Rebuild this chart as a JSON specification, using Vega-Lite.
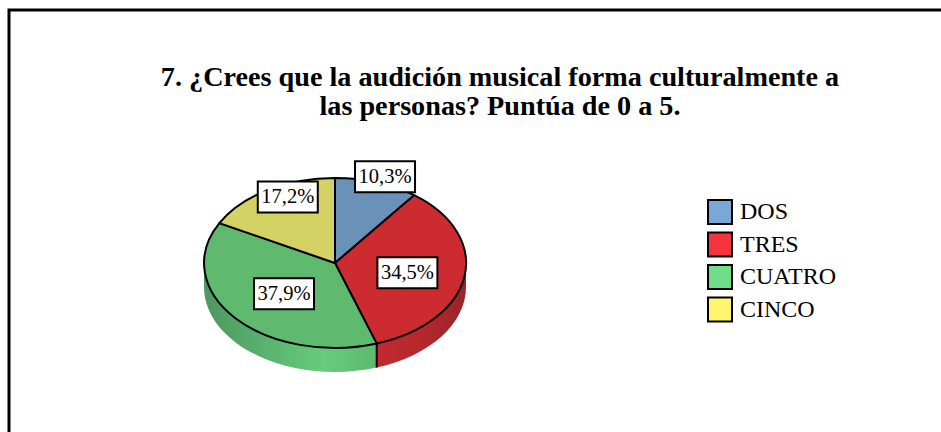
{"$schema":"https://vega.github.io/schema/vega-lite/v6.json","width":960,"height":450,"autosize":"none","padding":{"left":9,"top":10,"right":0,"bottom":0},"background":"white","view":{"stroke":"black","strokeWidth":3,"fill":"white"},
"title":{"text":["7. ¿Crees que la audición musical forma culturalmente a","las personas? Puntúa de 0 a 5.  "],"font":"Liberation Serif","fontSize":28.2,"fontWeight":"bold","color":"black","lineHeight":29,"anchor":"start","frame":"group","baseline":"alphabetic","offset":-133,"dx":491,"align":"center"},
"data":{"values":[{"respuesta":"DOS","orden":1,"pct":10.3,"etiqueta":"10,3%"},{"respuesta":"TRES","orden":2,"pct":34.5,"etiqueta":"34,5%"},{"respuesta":"CUATRO","orden":3,"pct":37.9,"etiqueta":"37,9%"},{"respuesta":"CINCO","orden":4,"pct":17.2,"etiqueta":"17,2%"}]},
"transform":[
{"window":[{"op":"sum","field":"pct","as":"fin"}],"sort":[{"field":"orden","order":"ascending"}]},
{"joinaggregate":[{"op":"sum","field":"pct","as":"total"}]},
{"calculate":"2*PI*(datum.fin-datum.pct)/datum.total","as":"a0"},
{"calculate":"2*PI*datum.fin/datum.total","as":"a1"},
{"calculate":"(datum.a0+datum.a1)/2","as":"am"},
{"calculate":"round(1310*sin(datum.a0))/10","as":"x0"},
{"calculate":"round(-850*cos(datum.a0))/10","as":"y0"},
{"calculate":"round(1310*sin(datum.a1))/10","as":"x1"},
{"calculate":"round(-850*cos(datum.a1))/10","as":"y1"},
{"calculate":"'M0,0L'+datum.x0+','+datum.y0+'A131,85 0 '+(datum.a1-datum.a0>PI?1:0)+' 1 '+datum.x1+','+datum.y1+'Z'","as":"cuña"},
{"calculate":"clamp(datum.a0,PI/2,3*PI/2)","as":"s0"},
{"calculate":"clamp(datum.a1,PI/2,3*PI/2)","as":"s1"},
{"calculate":"round(1310*sin(datum.s0))/10","as":"sx0"},
{"calculate":"round(-850*cos(datum.s0))/10","as":"sy0"},
{"calculate":"round(1310*sin(datum.s1))/10","as":"sx1"},
{"calculate":"round(-850*cos(datum.s1))/10","as":"sy1"},
{"calculate":"'M'+datum.sx0+','+datum.sy0+'A131,85 0 0 1 '+datum.sx1+','+datum.sy1+'L'+datum.sx1+','+(datum.sy1+24)+'A131,85 0 0 0 '+datum.sx0+','+(datum.sy0+24)+'Z'","as":"lado"},
{"calculate":"datum.orden==1?1.2:datum.orden==2?0.56:datum.orden==3?0.51:0.7","as":"kx"},
{"calculate":"datum.orden==1?1.07:datum.orden==2?0.72:datum.orden==3?0.56:0.905","as":"ky"},
{"calculate":"326+datum.kx*131*sin(datum.am)","as":"lx"},
{"calculate":"253-datum.ky*85*cos(datum.am)","as":"ly"},
{"calculate":"326+datum.x1","as":"jx"},
{"calculate":"253+datum.y1","as":"jy"},
{"calculate":"253+datum.y1+24","as":"jy2"}
],
"layer":[
{"transform":[{"filter":"datum.orden==2"}],"mark":{"type":"point","filled":true,"opacity":1,"size":4,"fill":{"gradient":"linear","x1":0,"y1":0,"x2":1,"y2":0,"stops":[{"offset":0,"color":"#c22a30"},{"offset":0.5,"color":"#b5282d"},{"offset":1,"color":"#982427"}]}},"encoding":{"x":{"value":326},"y":{"value":253},"shape":{"field":"lado","type":"nominal","scale":null}}},
{"transform":[{"filter":"datum.orden==3"}],"mark":{"type":"point","filled":true,"opacity":1,"size":4,"fill":{"gradient":"linear","x1":0,"y1":0,"x2":1,"y2":0,"stops":[{"offset":0,"color":"#4d9860"},{"offset":0.7,"color":"#66cc7c"},{"offset":1,"color":"#5cb96f"}]}},"encoding":{"x":{"value":326},"y":{"value":253},"shape":{"field":"lado","type":"nominal","scale":null}}},
{"mark":{"type":"point","filled":true,"opacity":1,"size":4,"stroke":"black","strokeWidth":2,"strokeJoin":"round"},"encoding":{"x":{"value":326},"y":{"value":253},"shape":{"field":"cuña","type":"nominal","scale":null},"fill":{"field":"respuesta","type":"nominal","legend":null,"scale":{"domain":["DOS","TRES","CUATRO","CINCO"],"range":["#6a92b8","#cc2b30","#5fba70","#d4d264"]}}}},
{"transform":[{"filter":"datum.orden==2"}],"mark":{"type":"rule","stroke":"black","strokeWidth":2},"encoding":{"x":{"field":"jx","type":"quantitative","scale":null},"y":{"field":"jy","type":"quantitative","scale":null},"y2":{"field":"jy2"}}},
{"mark":{"type":"arc","outerRadius":0,"innerRadius":0,"x":326,"y":253},"encoding":{"theta":{"field":"pct","type":"quantitative","stack":true},"color":{"field":"respuesta","type":"nominal","title":null,"scale":{"domain":["DOS","TRES","CUATRO","CINCO"],"range":["#7aa7d6","#f5333f","#70dd88","#fff56f"]},"legend":{"orient":"none","legendX":698,"legendY":189,"symbolType":"square","symbolSize":576,"symbolStrokeColor":"black","symbolStrokeWidth":2,"labelFont":"Liberation Serif","labelFontSize":24,"labelColor":"black","rowPadding":0.5,"labelOffset":7,"labelLimit":200}}}},
{"mark":{"type":"point","filled":true,"fill":"white","stroke":"black","strokeWidth":2,"opacity":1,"size":4,"shape":"M-30,-15.5H30V15.5H-30Z"},"encoding":{"x":{"field":"lx","type":"quantitative","scale":null},"y":{"field":"ly","type":"quantitative","scale":null}}},
{"mark":{"type":"text","font":"Liberation Serif","fontSize":20.5,"color":"black","align":"center","baseline":"middle"},"encoding":{"x":{"field":"lx","type":"quantitative","scale":null},"y":{"field":"ly","type":"quantitative","scale":null},"text":{"field":"etiqueta","type":"nominal"}}}
],
"resolve":{"scale":{"color":"independent"}}}
